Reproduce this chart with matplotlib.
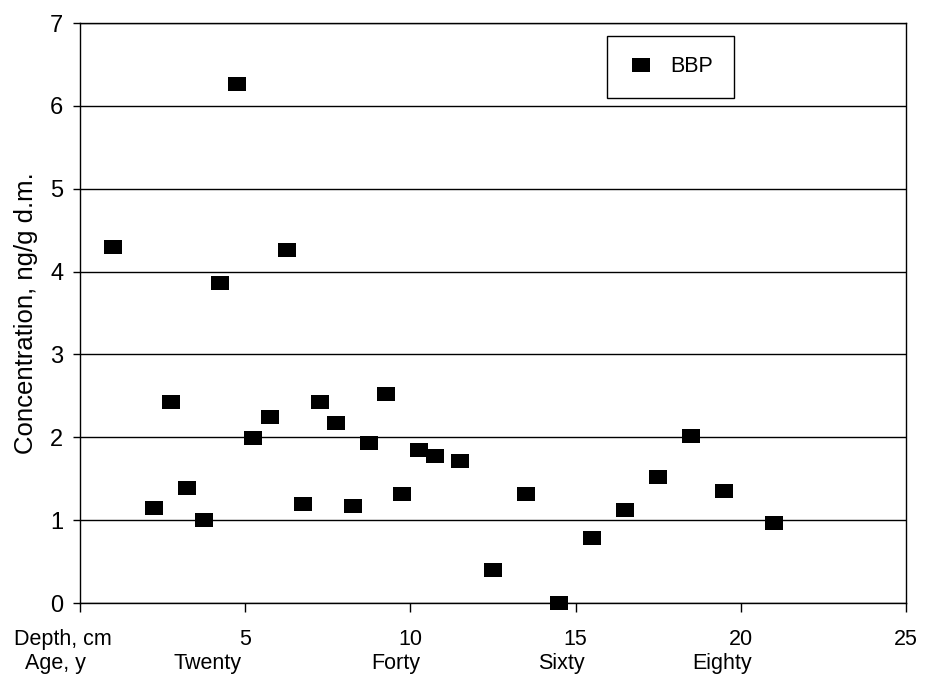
import matplotlib
matplotlib.use('Agg')
import matplotlib.pyplot as plt
import matplotlib.transforms as mtransforms

plt.rcParams['font.family'] = ['Liberation Sans', 'DejaVu Sans']

# BBP concentration by sediment depth
depth = [1.0, 2.25, 2.75, 3.25, 3.75, 4.25, 4.75, 5.25, 5.75, 6.25, 6.75,
         7.25, 7.75, 8.25, 8.75, 9.25, 9.75, 10.25, 10.75, 11.5, 12.5,
         13.5, 14.5, 15.5, 16.5, 17.5, 18.5, 19.5, 21.0]
bbp = [4.30, 1.15, 2.43, 1.39, 1.00, 3.86, 6.26, 1.99, 2.24, 4.26, 1.19,
       2.43, 2.17, 1.17, 1.93, 2.52, 1.31, 1.85, 1.77, 1.72, 0.40,
       1.31, 0.00, 0.79, 1.12, 1.52, 2.01, 1.35, 0.96]

x_ticks = [0, 5, 10, 15, 20, 25]
x_tick_labels = ['', '5', '10', '15', '20', '25']
age_labels = ['Twenty', 'Forty', 'Sixty', 'Eighty']
age_label_x = [3.87, 9.56, 14.58, 19.42]

# flat rectangle marker, a bit wider than tall
rect = [(-1, -0.76), (1, -0.76), (1, 0.76), (-1, 0.76), (-1, -0.76)]

fig = plt.figure(figsize=(9.29, 6.81), dpi=100)
ax = fig.add_axes([0.0861, 0.1145, 0.8892, 0.8517])

ax.plot(depth, bbp, linestyle='none', marker=rect, markersize=12.6,
        color='black', markeredgewidth=0, clip_on=False, zorder=5,
        label='BBP')

ax.set_xlim(0, 25)
ax.set_ylim(0, 7)
ax.set_xticks(x_ticks)
ax.set_xticklabels(x_tick_labels)
ax.set_yticks(range(0, 8))

ax.grid(axis='y', color='black', linewidth=1.0)
ax.set_axisbelow(True)
for s in ax.spines.values():
    s.set_color('black')
    s.set_linewidth(1.0)

ax.tick_params(axis='x', direction='out', length=6.5, width=1.0,
               labelsize=15.5, pad=12)
ax.tick_params(axis='y', direction='out', length=5, width=1.0,
               labelsize=17, pad=7)

ax.set_ylabel('Concentration, ng/g d.m.', fontsize=18.5)
ax.yaxis.set_label_coords(-0.051, 0.5)

# row labels under the axis
trans = mtransforms.blended_transform_factory(ax.transData, fig.transFigure)
ax.text(-0.51, 1 - 645 / 681, 'Depth, cm', transform=trans, ha='center',
        va='baseline', fontsize=15.5, clip_on=False)
ax.text(-0.73, 1 - 669 / 681, 'Age, y', transform=trans, ha='center',
        va='baseline', fontsize=15.5, clip_on=False)
for xp, lab in zip(age_label_x, age_labels):
    ax.text(xp, 1 - 669 / 681, lab, transform=trans, ha='center',
            va='baseline', fontsize=15.5, clip_on=False)

leg = ax.legend(loc='upper left', bbox_to_anchor=(0.638, 0.978),
                borderaxespad=0, fancybox=False, framealpha=1,
                edgecolor='black', fontsize=15.5, borderpad=0.95,
                handlelength=1.3, handletextpad=0.7, numpoints=1)
leg.get_frame().set_linewidth(1.0)

fig.savefig('out.png', dpi=100)
